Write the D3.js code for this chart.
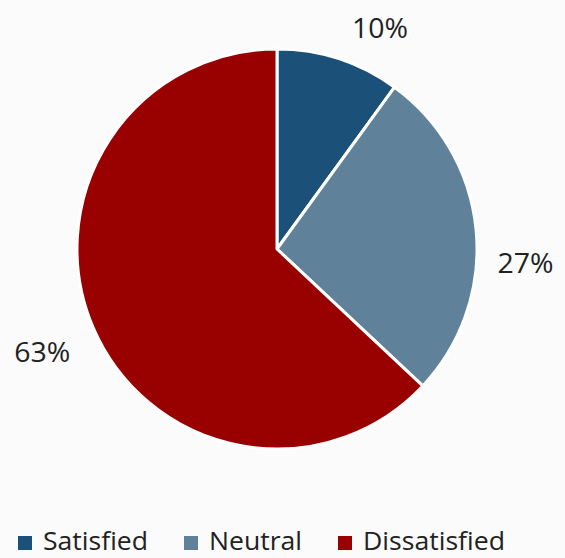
<!DOCTYPE html>
<html><head><meta charset="utf-8">
<script src="https://cdn.jsdelivr.net/npm/d3@7"></script>
<style>html,body{margin:0;padding:0;background:#fbfbfb;}</style>
</head><body>
<svg id="c" width="565" height="558"></svg>
<script>
const categories = ["Satisfied", "Neutral", "Dissatisfied"];
const values = [10, 27, 63];
const colors = ["#1b5079", "#5f8199", "#990000"];
// label placement (angle in degrees clockwise from top, radius in px)
const labelAngles = [25, 93.2, 246.5];
const labelRadii = [244, 249, 256];

const svg = d3.select("#c");
const cx = 277, cy = 249, R = 200;
const font = "Open Sans, Liberation Sans, sans-serif";

const pie = d3.pie().sort(null).value(d => d)(values);
const arc = d3.arc().innerRadius(0).outerRadius(R);
const g = svg.append("g").attr("transform", `translate(${cx},${cy})`);
g.selectAll("path").data(pie).enter().append("path")
  .attr("d", arc)
  .attr("fill", (d, i) => colors[i])
  .attr("stroke", "#ffffff").attr("stroke-width", 3).attr("stroke-linejoin", "round");

g.selectAll("text.lbl").data(pie).enter().append("text")
  .attr("class", "lbl")
  .attr("x", (d, i) => labelRadii[i] * Math.sin(labelAngles[i] * Math.PI / 180))
  .attr("y", (d, i) => -labelRadii[i] * Math.cos(labelAngles[i] * Math.PI / 180))
  .attr("text-anchor", "middle").attr("dominant-baseline", "central")
  .style("font-family", font).style("font-size", "27px").attr("fill", "#222")
  .attr("textLength", 56).attr("lengthAdjust", "spacingAndGlyphs")
  .text(d => d3.format(".0%")(d.data / d3.sum(values)));

// legend
const legX = [18, 184, 338];
const leg = svg.append("g");
categories.forEach((c, i) => {
  leg.append("rect").attr("x", legX[i]).attr("y", 536).attr("width", 14).attr("height", 14).attr("fill", colors[i]);
  leg.append("text").attr("x", legX[i] + 25).attr("y", 550)
    .style("font-family", font).style("font-size", "26px").attr("fill", "#222")
    .attr("textLength", [105, 93, 142][i]).attr("lengthAdjust", "spacingAndGlyphs")
    .text(c);
});
</script>
</body></html>
